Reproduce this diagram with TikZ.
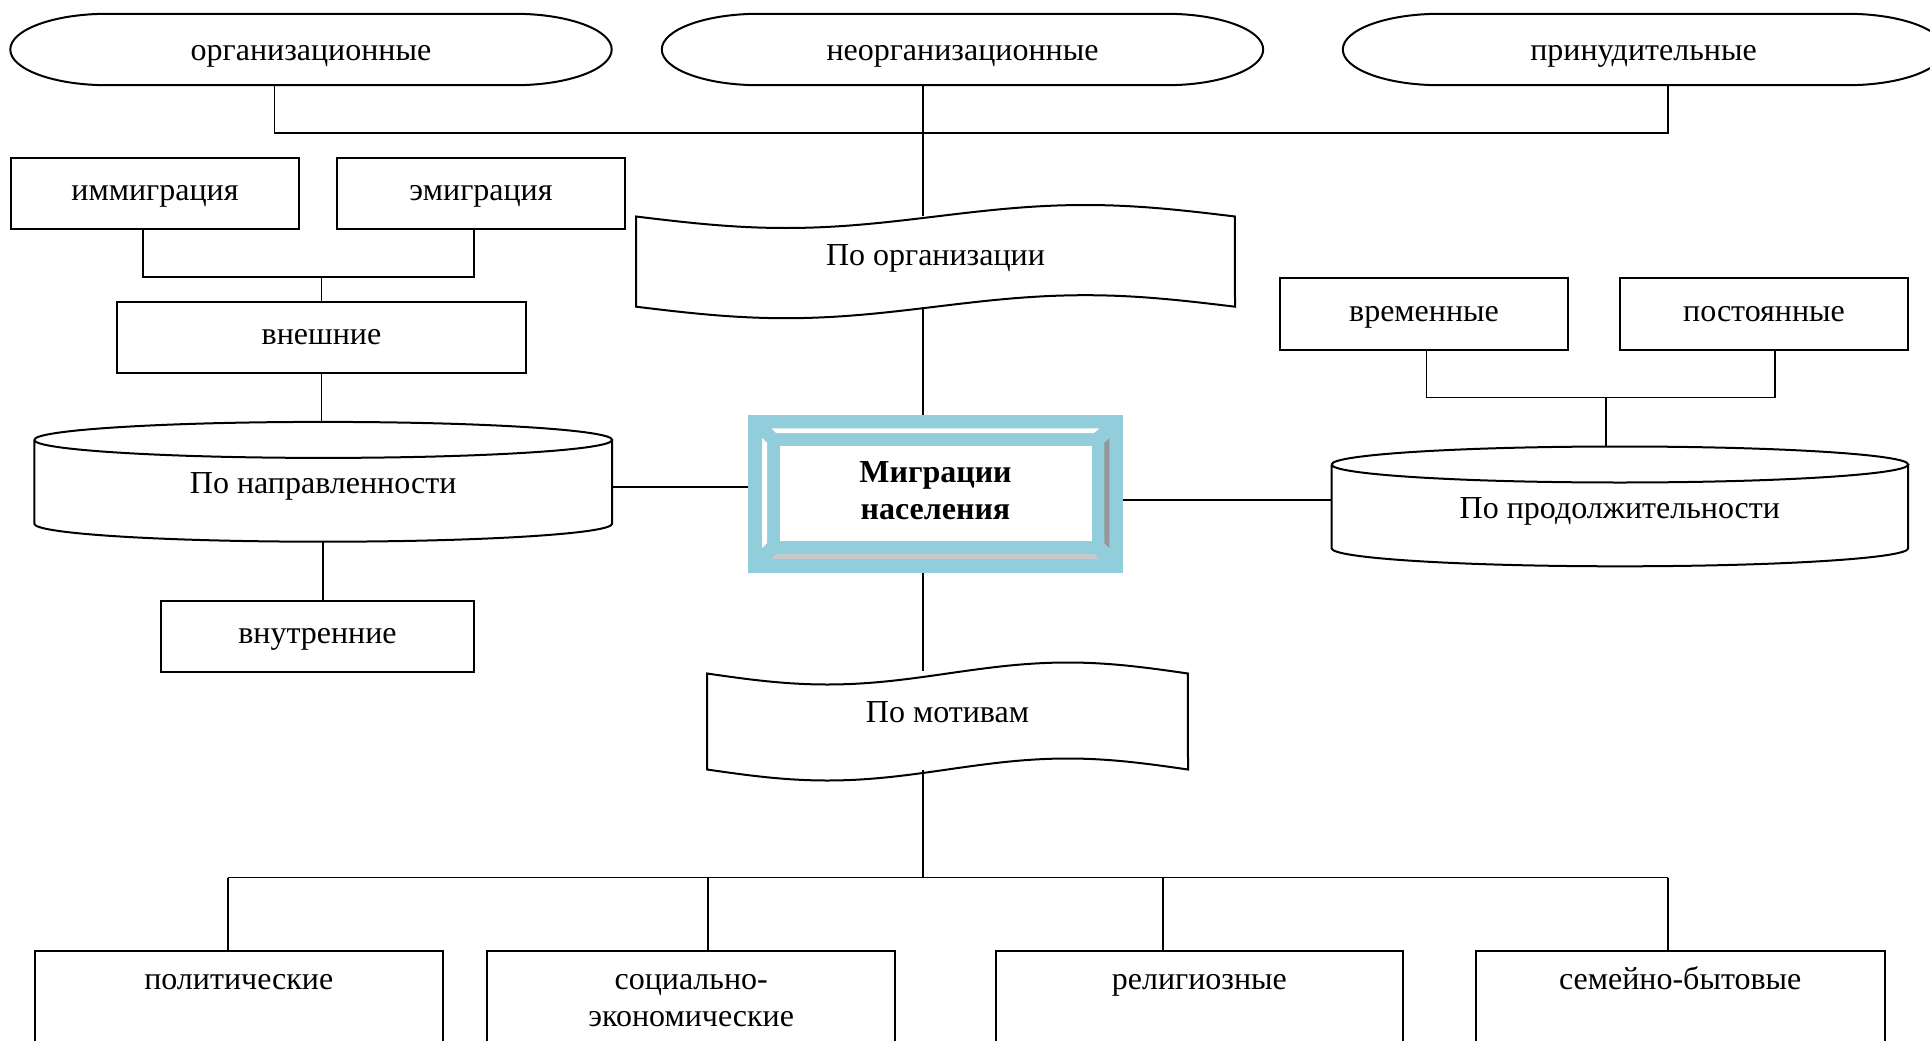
\documentclass[tikz,border=0pt]{standalone}
\usepackage{fontspec}
\setmainfont{Liberation Serif}
\usetikzlibrary{calc}
\definecolor{frameblue}{RGB}{146,205,220}
\definecolor{bevdark}{RGB}{150,150,150}
\definecolor{bevlight}{RGB}{200,200,200}
\newcommand\drawterm[1]{%
 \draw[outl] let \p1=(#1.north west), \p2=(#1.south east), \n1={0.161*(\x2-\x1)}, \n2={0.5*(\y1-\y2)} in
  (\x1+\n1,\y1) -- (\x2-\n1,\y1) arc[start angle=90,end angle=-90,x radius=\n1,y radius=\n2]
  -- (\x1+\n1,\y2) arc[start angle=270,end angle=90,x radius=\n1,y radius=\n2] -- cycle;}
\newcommand\drawcyl[1]{%
 \draw[outl] let \p1=(#1.north west), \p2=(#1.south east), \n1={0.5*(\x2-\x1)}, \n2={18pt} in
  (\x1,\y1-\n2) arc[start angle=180,end angle=-180,x radius=\n1,y radius=\n2]
  (\x1,\y1-\n2) -- (\x1,\y2+\n2) arc[start angle=180,end angle=360,x radius=\n1,y radius=\n2] -- (\x2,\y1-\n2);}
\newcommand\drawwave[5]{%
 \draw[outl] plot[domain=0:1,samples=41,smooth] ({#1+(#2-#1)*\x},{#3-#5*sin(360*\x)})
  -- plot[domain=1:0,samples=41,smooth] ({#1+(#2-#1)*\x},{#4-#5*sin(360*\x)}) -- cycle;}
\begin{document}
\begin{tikzpicture}[x=1pt,y=1pt,
  line/.style={line width=1.6pt},
  outl/.style={line width=2pt},
  txt/.style={font=\fontsize{32}{37}\selectfont, inner sep=0pt, align=center, text height=22pt, text depth=7pt},
  box/.style={txt, draw, line width=2pt, minimum width=288, minimum height=71.5},
  term/.style={txt, text height=30pt, minimum width=601, minimum height=71},
  cyl/.style={txt, text height=31pt, minimum height=119.4},
  bbox/.style={txt, draw, line width=2pt, anchor=north, text width=400, text height=38pt, text depth=100pt}]
\useasboundingbox (0,0) rectangle (1930,-1041);
\clip (0,0) rectangle (1930,-1041);
% top terminators
\node[term] (e1) at (311,-49.5) {организационные};
\node[term] (e2) at (962.5,-49.5) {неорганизационные};
\node[term] (e3) at (1643.5,-49.5) {принудительные};
\drawterm{e1}\drawterm{e2}\drawterm{e3}
% left cluster
\node[box] (imm) at (155,-193.3) {иммиграция};
\node[box] (emi) at (481,-193.3) {эмиграция};
\node[box, minimum width=409] (vne) at (321.5,-337.3) {внешние};
\node[cyl, minimum width=577.5] (dir) at (323.2,-481.8) {По направленности};
\drawcyl{dir}
\node[box, minimum width=313] (vnu) at (317.5,-636.4) {внутренние};
% right cluster
\node[box] (vre) at (1424,-313.8) {временные};
\node[box] (pos) at (1764,-313.8) {постоянные};
\node[cyl, minimum width=576.2] (dur) at (1619.9,-506.4) {По продолжительности};
\drawcyl{dur}
% waves
\drawwave{636}{1235}{-216.5}{-306.7}{11.5}
\node[txt, minimum width=599, minimum height=90.2, text height=28pt, text depth=20pt] (org) at (935.5,-261.6) {По организации};
\drawwave{707}{1188}{-673.5}{-769.5}{11}
\node[txt, minimum width=481, minimum height=96, text height=27pt, text depth=24.6pt] (mot) at (947.5,-721.5) {По мотивам};
% bottom boxes
\node[bbox, minimum width=408.5] (p1) at (238.8,-950.3) {политические};
\node[bbox, minimum width=407.6] (p2) at (691.2,-950.3) {социально-\\экономические};
\node[bbox, minimum width=407] (p3) at (1199.4,-950.3) {религиозные};
\node[bbox, minimum width=408.7] (p4) at (1680.2,-950.3) {семейно-бытовые};
% connector coordinates
\coordinate (spine) at (923,0);
\coordinate (busL) at (274.5,-133);
\coordinate (busR) at (1668,-133);
\coordinate (j1) at (142.8,-277);
\coordinate (j2) at (474,-277);
\coordinate (k1) at (1426.6,-397.6);
\coordinate (k2) at (1775,-397.6);
\coordinate (k3) at (1606,-397.6);
\coordinate (b1) at (227.7,-877.6);
\coordinate (b2) at (707.8,-877.6);
\coordinate (b3) at (1163,-877.6);
\coordinate (b4) at (1668,-877.6);
% connectors
\draw[line] (e1.south -| busL) -- (busL) -- (busR) -- (e3.south -| busR);
\draw[line] (e2.south -| spine) -- (org.north -| spine);
\draw[line] (org.south -| spine) -- ([yshift=2]mot.north -| spine);
\draw[line] (imm.south -| j1) -- (j1) -- (j2) -- (emi.south -| j2);
\draw[line] (vne.north) -- (vne.north |- j1);
\draw[line] (vne.south) -- (vne.south |- dir.north);
\draw[line] (dir.south) -- (dir.south |- vnu.north);
\draw[line] (vre.south -| k1) -- (k1) -- (k2) -- (pos.south -| k2);
\draw[line] (k3) -- (k3 |- dur.north);
\draw[line] (mot.south -| spine) -- (spine |- b1);
\draw[line] (b1) -- (b4);
\draw[line] (b1) -- (b1 |- p1.north);
\draw[line] (b2) -- (b2 |- p2.north);
\draw[line] (b3) -- (b3 |- p3.north);
\draw[line] (b4) -- (b4 |- p4.north);
% centre box (drawn over the spine)
\node[font=\fontsize{32}{37}\selectfont\bfseries, inner sep=0pt,
  minimum width=375, minimum height=158, fill=frameblue,
  path picture={
   \coordinate (nw) at (path picture bounding box.north west);
   \fill[white] ([shift={(32,-31)}]nw) rectangle ([shift={(344,-126)}]nw);
   \fill[white] ([shift={(23.7,-13.3)}]nw) -- ([shift={(351.3,-13.3)}]nw) -- ([shift={(346,-18)}]nw) -- ([shift={(28,-18)}]nw) -- cycle;
   \fill[white] ([shift={(14,-23)}]nw) -- ([shift={(19,-28)}]nw) -- ([shift={(19,-128)}]nw) -- ([shift={(14,-133)}]nw) -- cycle;
   \fill[bevdark] ([shift={(361.3,-23)}]nw) -- ([shift={(356.3,-28)}]nw) -- ([shift={(356.3,-128)}]nw) -- ([shift={(361.3,-133)}]nw) -- cycle;
   \fill[bevlight] ([shift={(23.7,-144)}]nw) -- ([shift={(351.3,-144)}]nw) -- ([shift={(346,-139)}]nw) -- ([shift={(28,-139)}]nw) -- cycle;
  }] (mig) at (935.5,-494) {\begin{tabular}{@{}c@{}}Миграции\\населения\end{tabular}};
\draw[line] ([yshift=-5.3]dir.east) coordinate (dl) -- (mig.west |- dl);
\draw[line] ([yshift=-6]mig.east) coordinate (dr) -- (dur.west |- dr);
\end{tikzpicture}
\end{document}
